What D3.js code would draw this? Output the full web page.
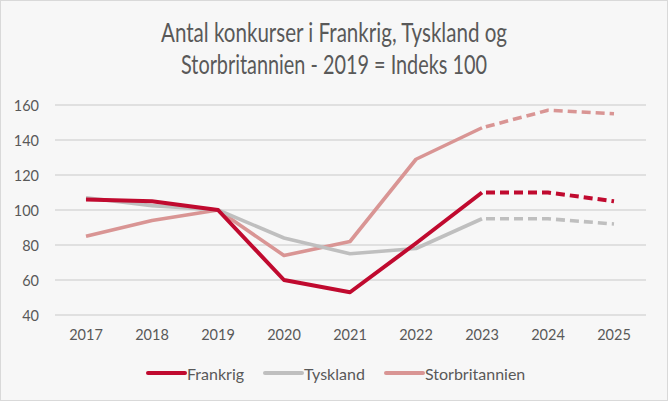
<!DOCTYPE html>
<html><head><meta charset="utf-8">
<script src="https://cdn.jsdelivr.net/npm/d3@7"></script>
<style>body{margin:0;background:#fff}svg{display:block}</style>
</head><body>
<svg id="c" width="668" height="401"></svg>
<script>
const years = ["2017","2018","2019","2020","2021","2022","2023","2024","2025"];
const frankrig = [106,105,100,60,53,81,110,110,105];
const tyskland = [107,102.5,100,84,75,78,95,95,92];
const storbritannien = [85,94,100,74,82,129,147,157,155];
const yTicks = [40,60,80,100,120,140,160];
const seriesNames = ["Frankrig","Tyskland","Storbritannien"];
const seriesColors = ["#C00A2F","#BFBFBF","#D99594"];
const forecastFrom = "2023";

const svg = d3.select("#c");
const W = 668, H = 401;
svg.append("rect").attr("x",0.5).attr("y",0.5).attr("width",W-1).attr("height",H-1)
  .attr("fill","#F7F7F7").attr("stroke","#D9D9D9");

const font = "Lato, 'Open Sans', sans-serif";
const txt = "#595959";

// title
svg.append("text").attr("x",334).attr("y",42).attr("text-anchor","middle")
  .attr("font-family",font).attr("font-size",26.5).attr("fill",txt)
  .attr("textLength",346).attr("lengthAdjust","spacingAndGlyphs")
  .text("Antal konkurser i Frankrig, Tyskland og");
svg.append("text").attr("x",334).attr("y",74).attr("text-anchor","middle")
  .attr("font-family",font).attr("font-size",26.5).attr("fill",txt)
  .attr("textLength",306).attr("lengthAdjust","spacingAndGlyphs")
  .text("Storbritannien  - 2019 = Indeks 100");

const x = d3.scaleBand().domain(years).range([53,647]);
const y = d3.scaleLinear().domain([40,160]).range([315,105]);

// gridlines
svg.append("g").selectAll("line").data(yTicks).join("line")
  .attr("x1",55).attr("x2",646).attr("y1",d=>y(d)).attr("y2",d=>y(d))
  .attr("stroke","#D9D9D9").attr("stroke-width",1.3);

// y axis
const yAxis = svg.append("g").attr("transform","translate(39,0)")
  .call(d3.axisLeft(y).tickValues(yTicks).tickSize(0).tickPadding(0));
yAxis.select(".domain").remove();
yAxis.selectAll("text").attr("font-family",font).attr("font-size",14.5).attr("fill",txt).attr("dy","0.35em");

// x axis
const xAxis = svg.append("g").attr("transform","translate(0,330)")
  .call(d3.axisBottom(x).tickSize(0).tickPadding(0));
xAxis.select(".domain").remove();
xAxis.selectAll("text").attr("font-family",font).attr("font-size",14.5).attr("fill",txt).attr("dy","0.71em");

const allSeries = [frankrig, tyskland, storbritannien];
const line = d3.line().x(d=>x(d.year)+x.bandwidth()/2).y(d=>y(d.v));
const fi = years.indexOf(forecastFrom);
[2,1,0].forEach(si=>{
  const pts = years.map((yr,i)=>({year:yr, v:allSeries[si][i]}));
  const solid = pts.slice(0,fi+1), dashed = pts.slice(fi);
  const sw = si===0 ? 4 : 3.6;
  svg.append("path").attr("d",line(solid)).attr("fill","none")
    .attr("stroke",seriesColors[si]).attr("stroke-width",sw).attr("stroke-linejoin","round");
  svg.append("path").attr("d",line(dashed)).attr("fill","none")
    .attr("stroke",seriesColors[si]).attr("stroke-width",sw).attr("stroke-dasharray","9,5")
    .attr("stroke-dashoffset",-4).attr("stroke-linejoin","round");
});

// legend
const legX = [148,265,386];
seriesNames.forEach((n,i)=>{
  svg.append("line").attr("x1",legX[i]).attr("x2",legX[i]+37).attr("y1",373).attr("y2",373)
    .attr("stroke",seriesColors[i]).attr("stroke-width",4).attr("stroke-linecap","round");
  svg.append("text").attr("x",legX[i]+39).attr("y",374).attr("dy","0.35em")
    .attr("font-family",font).attr("font-size",16).attr("fill",txt).text(n);
});
</script>
</body></html>
